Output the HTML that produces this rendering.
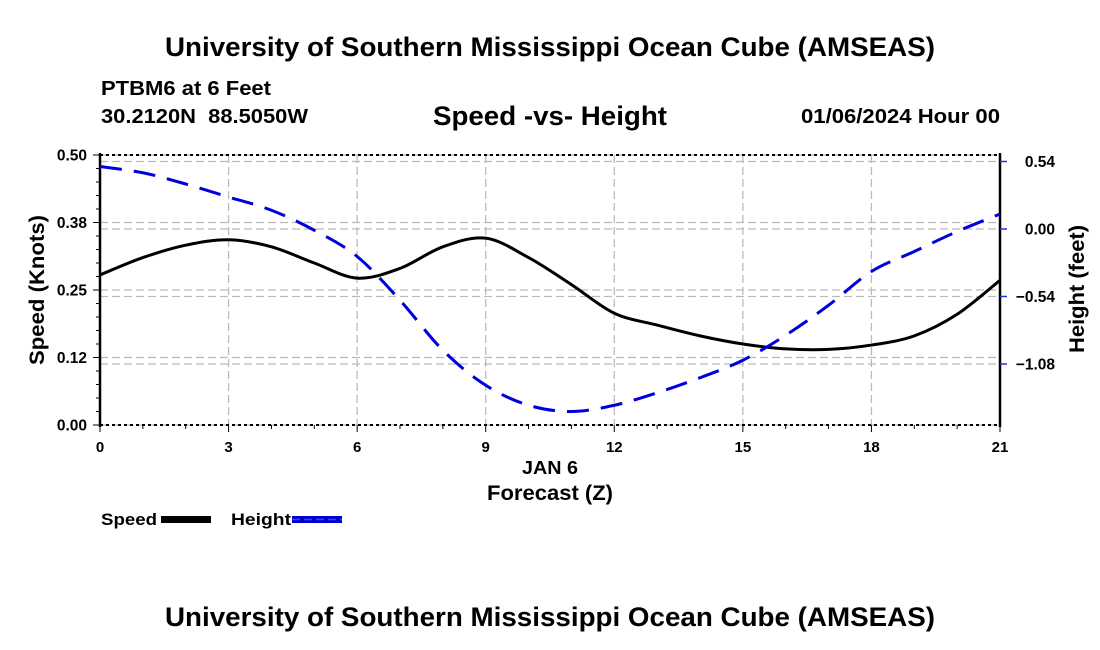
<!DOCTYPE html>
<html><head><meta charset="utf-8"><style>
body{margin:0;background:#fff;}
svg{display:block;font-family:"Liberation Sans",sans-serif;font-weight:bold;}
</style></head><body>
<svg id="chart" width="1100" height="650" viewBox="0 0 1100 650">
<text x="550" y="56" font-size="27" text-anchor="middle" textLength="770" lengthAdjust="spacingAndGlyphs">University of Southern Mississippi Ocean Cube (AMSEAS)</text>
<text x="101" y="95" font-size="20" textLength="170" lengthAdjust="spacingAndGlyphs">PTBM6 at 6 Feet</text>
<text x="101" y="123" font-size="20" textLength="207" lengthAdjust="spacingAndGlyphs" xml:space="preserve">30.2120N  88.5050W</text>
<text x="550" y="125" font-size="27" text-anchor="middle" textLength="234" lengthAdjust="spacingAndGlyphs">Speed -vs- Height</text>
<text x="1000" y="123" font-size="20" text-anchor="end" textLength="199" lengthAdjust="spacingAndGlyphs">01/06/2024 Hour 00</text>
<g id="grid"></g>
<g id="axes"></g>
<g id="series"></g>
<text x="550" y="474" font-size="18" text-anchor="middle" textLength="56" lengthAdjust="spacingAndGlyphs">JAN 6</text>
<text x="550" y="500" font-size="21" text-anchor="middle" textLength="126" lengthAdjust="spacingAndGlyphs">Forecast (Z)</text>
<text transform="translate(44,290) rotate(-90)" font-size="21" text-anchor="middle" textLength="150" lengthAdjust="spacingAndGlyphs">Speed (Knots)</text>
<text transform="translate(1084,289) rotate(-90)" font-size="21" text-anchor="middle" textLength="128" lengthAdjust="spacingAndGlyphs">Height (feet)</text>
<g>
<text x="101" y="525" font-size="17" textLength="56" lengthAdjust="spacingAndGlyphs">Speed</text>
<rect x="161" y="516" width="50" height="7" fill="#000"/>
<text x="231" y="525" font-size="17" textLength="60" lengthAdjust="spacingAndGlyphs">Height</text>
<rect x="292" y="516" width="50" height="7" fill="#0000cc"/>
<line x1="292" y1="519.5" x2="342" y2="519.5" stroke="#3344ff" stroke-width="1.5" stroke-dasharray="8 4"/>
</g>
<text x="550" y="626" font-size="27" text-anchor="middle" textLength="770" lengthAdjust="spacingAndGlyphs">University of Southern Mississippi Ocean Cube (AMSEAS)</text>
</svg>
<script>
const hours = [0,1,2,3,4,5,6,7,8,9,10,11,12,13,14,15,16,17,18,19,20,21];
const speed = [0.278,0.31,0.333,0.343,0.33,0.30,0.272,0.29,0.33,0.346,0.31,0.26,0.207,0.185,0.165,0.150,0.141,0.140,0.148,0.165,0.205,0.268];
const height = [0.50,0.45,0.36,0.256,0.15,-0.01,-0.22,-0.57,-0.97,-1.25,-1.41,-1.46,-1.41,-1.31,-1.19,-1.05,-0.85,-0.61,-0.34,-0.18,-0.02,0.12];
const xTicks = [0,3,6,9,12,15,18,21];
const leftTickVals = [0,0.125,0.25,0.375,0.5];
const leftTickLabels = ["0.00","0.12","0.25","0.38","0.50"];
const rightTickVals = [-1.08,-0.54,0,0.54];
const rightTickLabels = ["\u22121.08","\u22120.54","0.00","0.54"];

const X0=100,X1=1000,Y0=425,Y1=155;
const xs = h => X0 + (h-0)/21*(X1-X0);
const ysL = v => Y0 - v/0.5*(Y0-Y1);
const ysR = v => 229 - v*125;
const NS="http://www.w3.org/2000/svg";
function mk(tag, attrs, parent){const e=document.createElementNS(NS,tag);for(const k in attrs)e.setAttribute(k,attrs[k]);parent.appendChild(e);return e;}
const grid=document.getElementById('grid'), axes=document.getElementById('axes'), series=document.getElementById('series');
const gs={stroke:"#bbb","stroke-width":1.3,"stroke-dasharray":"8 4"};
xTicks.forEach(t=>{ if(t>0&&t<21){const l=mk('line',Object.assign({x1:xs(t),x2:xs(t),y1:Y1,y2:Y0},gs),grid);

}});
leftTickVals.forEach(v=>{const l=mk('line',Object.assign({x1:X0,x2:X1,y1:ysL(v),y2:ysL(v)},gs),grid);

});
rightTickVals.forEach(v=>{const l=mk('line',Object.assign({x1:X0,x2:X1,y1:ysR(v),y2:ysR(v)},gs),grid);

});
[Y1,Y0].forEach(y=>{const l=mk('line',{x1:X0,x2:X1,y1:y,y2:y,stroke:"#000","stroke-width":2,"stroke-dasharray":"3 3"},axes);

});
const la=mk('line',{x1:X0,x2:X0,y1:Y1-2,y2:Y0+2,stroke:"#000","stroke-width":2.5},axes);


const ra=mk('line',{x1:X1,x2:X1,y1:Y1-2,y2:Y0+2,stroke:"#000","stroke-width":2.5},axes);


for(let h=0;h<=21;h++){const l=mk('line',{x1:xs(h),x2:xs(h),y1:Y0,y2:Y0+(h%3==0?7:4),stroke:"#000","stroke-width":1},axes);

}
xTicks.forEach(t=>{const e=mk('text',{x:xs(t),y:452,"font-size":15,"text-anchor":"middle"},axes);e.textContent=t;

});
for(let i=0;i<=20;i++){const v=i*0.025;const major=(i%5==0);const l=mk('line',{x1:X0-(major?7:4),x2:X0,y1:ysL(v),y2:ysL(v),stroke:"#000","stroke-width":1},axes);

}
leftTickVals.forEach((v,i)=>{const e=mk('text',{x:87,y:ysL(v)+5.5,"font-size":15.5,"text-anchor":"end"},axes);e.textContent=leftTickLabels[i];

});
rightTickVals.forEach((v,i)=>{const l=mk('line',{x1:X1,x2:X1+7,y1:ysR(v),y2:ysR(v),stroke:"#2233cc","stroke-width":1.5},axes);


const e=mk('text',{x:1055,y:ysR(v)+5.5,"font-size":15.5,"text-anchor":"end"},axes);e.textContent=rightTickLabels[i];

});
function smooth(pts){let d=`M${pts[0][0]},${pts[0][1]}`;for(let i=0;i<pts.length-1;i++){const p0=pts[Math.max(0,i-1)],p1=pts[i],p2=pts[i+1],p3=pts[Math.min(pts.length-1,i+2)];
const c1=[p1[0]+(p2[0]-p0[0])/6,p1[1]+(p2[1]-p0[1])/6],c2=[p2[0]-(p3[0]-p1[0])/6,p2[1]-(p3[1]-p1[1])/6];
d+=` C${c1[0]},${c1[1]} ${c2[0]},${c2[1]} ${p2[0]},${p2[1]}`;}return d;}
const sp=mk('path',{d:smooth(hours.map((h,i)=>[xs(h),ysL(speed[i])])),fill:"none",stroke:"#000","stroke-width":3},series);


const hp=mk('path',{d:smooth(hours.map((h,i)=>[xs(h),ysR(height[i])])),fill:"none",stroke:"#0000dd","stroke-width":3,"stroke-dasharray":"22 12"},series);


</script>
</body></html>
